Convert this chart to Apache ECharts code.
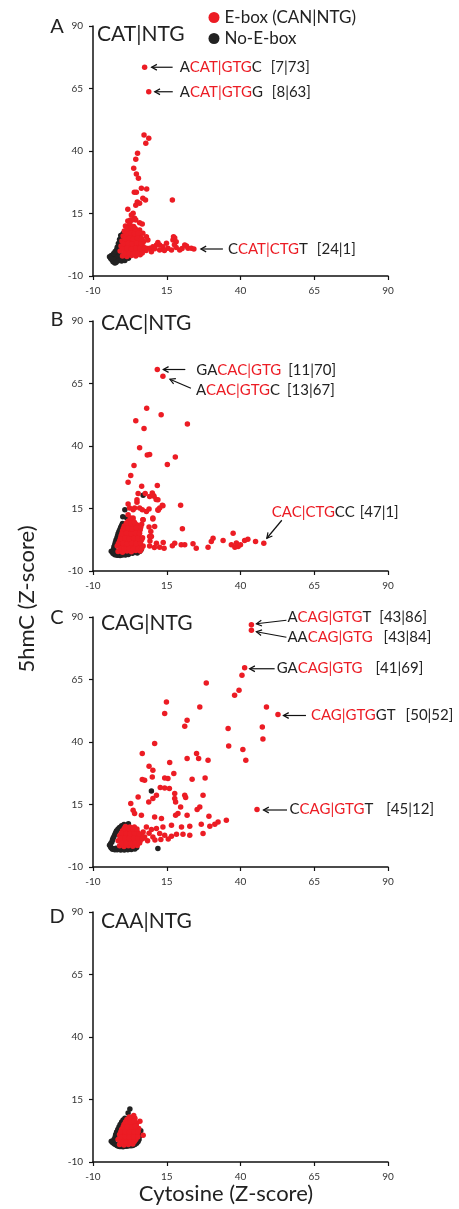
<!DOCTYPE html>
<html><head><meta charset="utf-8">
<script src="https://cdn.jsdelivr.net/npm/echarts@6/dist/echarts.min.js"></script>
<style>html,body{margin:0;padding:0;background:#fff}#c{width:459px;height:1209px}</style>
</head><body><div id="c"></div>
<script>
// ---------- data ----------
const axisMin = -10, axisMax = 90, axisStep = 25;   // ticks: -10, 15, 40, 65, 90
const panelLetters = ['A', 'B', 'C', 'D'];
const panelTitles = ['CAT|NTG', 'CAC|NTG', 'CAG|NTG', 'CAA|NTG'];
const seriesNames = ['E-box (CAN|NTG)', 'No-E-box'];
const xTitle = 'Cytosine (Z-score)';
const yTitle = '5hmC (Z-score)';

const aRed = [
 [7.5,73.5],[8.9,63.7],[7.3,46.4],[8.9,45.1],[7.9,43.1],[5.1,39.1],[4.5,36.7],[3.8,33.1],[4.7,30.8],[5.4,29.1],
 [4.0,23.5],[4.7,23.5],[6.4,25.1],[8.2,24.8],[6.9,21.1],[7.8,20.4],[16.9,20.4],[5.0,19.6],[4.5,18.3],[5.8,19.1],
 [1.8,16.7],[3.6,15.1],[3.0,14.4],[4.1,13.1],[2.7,12.4],[4.5,12.4],[5.8,11.3],[6.7,10.8],[3.0,9.7],[5.8,8.4],
 [6.9,7.1],[8.1,5.7],[8.6,4.4],[17.3,5.7],[17.1,4.4],[17.7,5.2],[18.2,3.7],[14.9,3.1],[12.6,2.4],[10.3,1.7],
 [11.5,2.4],[13.7,1.7],[15.4,1.1],[9.8,-0.3],[12.6,0.4],[16.6,0.4],[19.4,0.4],[21.1,2.4],[21.7,2.0],[22.2,1.1],
 [23.3,1.1],[24.2,0.8],[8.1,1.1],[9.2,1.1],[10.9,0.9],[14.2,0.2],[18.2,1.4],[20.2,1.0],[12.0,3.4],[17.6,2.5],
 [0,-2],[1.5,-2.2],[3,-1.8],[4.5,-2],[6,-1.5],
 [-0.8,0],[0.8,0.2],[2.3,-0.2],[3.8,0.3],[5.3,0],[6.8,0.4],[8,0.2],
 [-0.5,2],[1,2.2],[2.5,1.8],[4,2.3],[5.5,2],[7,1.8],
 [-0.2,4],[1.2,4.2],[2.7,3.8],[4.2,4.3],[5.6,4],[7.2,3.8],
 [0.2,6],[1.6,6.2],[3,5.8],[4.4,6.3],[5.8,6],
 [0.6,8],[2,8.2],[3.4,7.8],[4.8,8.3],
 [1,10],[2.4,10.3],[3.8,9.8],[1.8,12],[3.2,12.4],
 [0.7,-1],[2.2,-1],[3.7,-1],[5.2,-1],[6.7,-0.8],
 [0,1],[1.5,1.1],[3,0.9],[4.5,1.2],[6,1],[7.5,1.1],
 [0.3,3],[1.8,3.1],[3.3,2.9],[4.8,3.2],[6.3,3],
 [0.9,5],[2.3,5.1],[3.7,4.9],[5.1,5.2],[6.5,5],
 [1.2,7],[2.6,7.2],[4.1,7],[5.3,7.2],
 [1.6,9],[3,9.2],[4.3,9],[2.5,11.2]
];
const aBlack = [
 [-4.4,-2.3],[-3.8,-1.8],[-3.2,-4.3],[-2.6,-4.8],[-2.2,-3.6],[-3.0,-2.8],[-2.4,-1.5],[-1.8,-2.6],[-1.2,-3.5],
 [-1.5,-0.5],[-0.9,-1.8],[-1.2,0.8],[-1.0,1.5],[-0.9,2.8],[-0.5,4.2],[-0.2,5.6],[0.2,7.0],[-0.4,-2.8],[0.4,-3.2],
 [1.2,-2.6],[2.0,-2.9],[-2.0,0.4],[-0.8,3.5],[0.9,-1.5],[-3.6,-3.4],
 [-3.5,-3.6],[-2.8,-3.4],[-1.6,-4.0],[-2.2,-4.6],[-3.0,-1.0],[-2.5,-0.2],[-1.8,1.5],[-1.4,3.0],[-1.0,4.6],
 [-0.6,6.2],[-0.3,-4.0],[0.8,-3.8],[-4.0,-3.0]
];

const bRed = [
 [11.8,70.6],[13.7,67.9],[8.2,55.1],[13.1,52.5],[4.5,50.1],[22.0,48.8],[7.3,47.0],[5.8,39.3],[8.4,36.4],[9.2,36.6],
 [17.9,35.6],[15.2,32.6],[3.9,32.2],[2.8,28.2],[1.9,25.5],[6.5,23.9],[11.8,24.2],[7.7,21.0],[10.1,21.2],[10.7,19.9],
 [5.3,21.0],[11.4,18.6],[19.7,16.3],[13.5,16.3],[1.9,16.8],[4.9,17.5],[4.1,15.2],[6.7,14.5],[9.0,14.8],[12.1,14.3],
 [12.6,15.2],[6.9,10.5],[10.3,10.8],[9.0,7.6],[20.3,6.9],[9.8,3.8],[11.5,1.1],[12.6,-0.5],[14.1,-0.9],[10.8,-0.6],
 [13.8,1.4],[17.7,1.1],[16.9,0.1],[19.9,0.5],[21.1,0.5],[23.9,0.9],[25.0,-0.9],[29.0,-0.5],[30.1,1.8],[30.7,3.1],
 [34.1,2.2],[37.5,5.1],[36.9,0.5],[38.1,-0.5],[39.2,-0.2],[40.0,0.5],[41.4,2.2],[42.5,2.7],[45.1,1.8],[38.6,1.2],
 [47.9,1.1],[3.6,14.5],[5.8,15.2],[8.1,13.8],[10.3,11.2],[12.0,14.5],[13.7,16.1],[12.0,18.5],[9.2,19.8],[10.3,20.5],
 [4.9,18.5],[2.4,15.2],[1.9,12.5],[3.6,11.2],[7.0,10.5],[10.9,7.8],[9.6,5.8],[9.2,3.8],[9.3,2.0],[9.2,0.0],
 [-1.5,-2.2],[0,-2.5],[1.5,-2],[3,-2.3],[4.5,-1.8],[6,-2],
 [-1.8,0],[-0.3,0.3],[1.2,-0.2],[2.7,0.2],[4.2,0],[5.7,0.4],[7,0],
 [-1,2],[0.5,2.3],[2,1.8],[3.5,2.2],[5,2],[6.5,2.5],
 [-0.5,4],[1,4.2],[2.5,3.8],[4,4.3],[5.5,4],
 [0,6],[1.5,6.3],[3,5.8],[4.5,6.2],[6,6.5],
 [0.6,8],[2,8.3],[3.4,8],[4.8,8.5],[6.5,8.7],[2,10],[3.5,10.5],
 [-0.8,-1],[0.7,-1.2],[2.2,-1],[3.7,-1.1],[5.2,-0.9],[6.5,-1],
 [-1.4,1],[0.1,1.2],[1.6,0.9],[3.1,1.1],[4.6,1],[6.1,1.3],
 [-0.7,3],[0.8,3.2],[2.3,2.9],[3.8,3.1],[5.3,3],[6.8,3.3],
 [-0.2,5],[1.3,5.1],[2.8,4.9],[4.3,5.2],[5.8,5.1],
 [0.3,7],[1.8,7.2],[3.2,6.9],[4.7,7.3],[6.2,7.6],
 [1.3,9.2],[2.8,9.2],[4.1,9.4],[2.7,11.2]
];
const bBlack = [
 [-3.8,-2.1],[-3.2,-3],[-2.6,-3.5],[-2,-3.6],[-1.2,-3.2],[-0.4,-3.4],[0.5,-3.1],[1.5,-3.3],[2.4,-2.8],[-3,-1.2],
 [-2.6,0.6],[-2.2,2.4],[-1.7,4],[-1.2,5.8],[-0.6,7.5],[0,9],[0.8,14.5],[0.1,11.7],[1.4,11.3],[7,20.3],[-2.5,-2],
 [5,-2.8],[6.3,-1.5],
 [-3.4,-2.5],[-2.8,-2.8],[-1.6,-3.7],[-0.8,-3.8],[0,-3.6],[1,-3.6],[2,-3.4],[-2.9,-0.3],[-2.4,1.5],[-1.9,3.2],
 [-1.5,4.9],[-0.9,6.6],[-0.3,8.2],[3.4,-2.9],[5.8,-2.2]
];

const cRed = [
 [43.7,86.9],[43.7,84.7],[41.4,69.7],[40.5,66.7],[28.4,63.6],[39.5,60.7],[38.0,58.7],[14.9,56.0],[14.3,51.4],[26.2,54.0],
 [48.8,54.0],[52.7,51.0],[21.9,48.7],[21.1,46.3],[35.8,45.4],[47.4,46.0],[47.6,41.2],[10.9,39.4],[36.0,38.4],[40.8,37.0],
 [41.8,32.7],[6.7,35.4],[16.0,31.8],[25.1,35.4],[25.8,33.4],[21.9,33.4],[29.0,32.7],[9.0,30.3],[10.3,28.7],[6.7,25.0],
 [7.5,24.7],[10.1,26.0],[14.3,25.6],[15.4,25.4],[17.4,27.4],[23.6,25.1],[28.0,25.6],[12.8,21.8],[14.3,21.6],[15.9,21.4],
 [21.1,18.7],[17.7,19.4],[27.3,18.7],[10.3,17.4],[11.5,18.7],[8.9,16.0],[5.3,18.0],[17.7,17.4],[18.0,16.0],[21.4,17.8],
 [19.7,14.0],[26.2,14.0],[25.3,13.0],[2.8,15.4],[3.6,12.7],[4.1,11.4],[6.4,10.7],[10.9,10.0],[13.2,9.4],[18.8,11.4],
 [18.0,10.7],[21.9,10.7],[29.3,10.3],[35.2,8.7],[32.4,8.0],[31.3,7.1],[26.7,7.1],[29.6,6.3],[22.8,6.3],[20.0,6.0],
 [16.6,6.7],[13.7,6.0],[11.5,5.4],[8.1,6.0],[9.8,5.0],[27.3,3.4],[22.8,2.7],[20.5,3.1],[18.3,3.1],[16.6,2.3],
 [14.3,2.7],[12.6,3.4],[10.3,2.0],[7.5,2.0],[6.4,2.7],[45.6,13.0],[8.5,0.5],[11,0.8],[13,1],[15.5,1.2],[5,4],[7,4],[9,3.5],
 [-1,-1.5],[0.5,-1.8],[2,-1.5],[3.5,-1.7],[5,-1.4],
 [-1.5,0.5],[0,0.3],[1.5,0.6],[3,0.4],[4.5,0.7],[6,0.5],
 [-1,2.5],[0.5,2.7],[2,2.4],[3.5,2.6],[5,2.3],[6.5,2.2],
 [0,4.5],[1.5,4.6],[3,4.3],[4.5,4.5],[1,6.2],[2.5,6],[4,6],
 [-0.2,-0.6],[1.3,-0.6],[2.8,-0.7],[4.3,-0.5],[5.8,-0.4],
 [-0.7,1.5],[0.8,1.6],[2.3,1.5],[3.8,1.5],[5.3,1.5],[6.8,1.3],
 [-0.4,3.5],[1.1,3.6],[2.6,3.4],[4.1,3.5],[5.6,3.3],
 [0.6,5.4],[2.0,5.4],[3.5,5.2],[4.9,5.2]
];
const cBlack = [
 [-4.4,-1.3],[-3.8,-2.4],[-3,-2.7],[-2.2,-2.5],[-1.2,-2.8],[0,-2.9],[1.2,-2.6],[2.4,-2.7],[3.6,-2.5],[4.8,-2.2],
 [-3.6,0],[-3.2,1.5],[-2.6,3],[-2,4.5],[-1,5.8],[0.5,7],[2,7.3],[9.8,20.4],[12.0,-2.6],
 [-4,-2],[-3.4,-2.9],[-2.6,-3.1],[-1.8,-3.1],[-0.6,-3.2],[0.6,-3.2],[1.8,-3.1],[3,-3],[4.2,-2.8],[-4,-0.6],
 [-3.4,0.8],[-2.9,2.2],[-2.3,3.8],[-1.5,5.2],[-0.3,6.5]
];

const dRed = [
 [-1,-3],[0.5,-3.2],[2,-3],[3.5,-2.8],
 [-1.5,-1],[0,-0.8],[1.5,-1.2],[3,-0.9],[4.5,-1],
 [-1,1],[0.5,1.2],[2,0.8],[3.5,1.1],[5,0.9],
 [-0.3,3],[1.2,3.3],[2.7,2.9],[4.2,3.2],[5.5,3.4],
 [0.5,5],[2,5.2],[3.5,5],[4.8,5.6],[1.5,7],[3,7.2],[4.2,7.5],
 [3.8,8.6],[5.9,6.3],[7.0,0.7],[4.7,4.3],
 [-0.2,-2],[1.2,-2.1],[2.7,-2],[4,-1.8],
 [-0.8,0],[0.8,0.1],[2.3,-0.1],[3.8,0.1],[5.2,0],
 [-0.6,2],[0.9,2.2],[2.4,1.9],[3.9,2.1],[5.3,2.1],
 [0.2,4],[1.6,4.2],[3.1,4],[4.4,4.3],
 [1,6],[2.5,6.1],[4,6.3],[2.3,8]
];
const dBlack = [
 [-3.8,-1.7],[-3,-2.5],[-2.2,-3],[-1.5,-3.6],[-0.5,-3.8],[0.8,-3.7],[2.2,-3.5],[3.5,-3.4],[4.8,-2.5],[5.6,-1],
 [5.6,1.6],[-2.5,0],[-2,2],[-1.2,4],[-0.3,6],[0.8,7.5],[1.9,9.6],[2.5,11.2],
 [-3.4,-2.2],[-2.6,-2.9],[-1.9,-3.4],[-1,-3.8],[0.2,-3.9],[1.5,-3.7],[2.9,-3.5],[4.2,-3],[5.3,-1.8],[-2.9,-1],
 [-2.3,1],[-1.6,3],[-0.8,5],[0.2,6.8],[5.8,0.3],[6.2,2.5]
];

// annotated sequences: [x|y] value pairs
const aNotes = [
 {pre:'A', seq:'CAT|GTG', post:'C', val:'[7|73]', x:7.5, y:73.5},
 {pre:'A', seq:'CAT|GTG', post:'G', val:'[8|63]', x:8.9, y:63.7},
 {pre:'C', seq:'CAT|CTG', post:'T', val:'[24|1]', x:24.2, y:0.8}
];
const bNotes = [
 {pre:'GA', seq:'CAC|GTG', post:'', val:'[11|70]', x:11.8, y:70.6},
 {pre:'A', seq:'CAC|GTG', post:'C', val:'[13|67]', x:13.7, y:67.9},
 {pre:'', seq:'CAC|CTG', post:'CC', val:'[47|1]', x:47.9, y:1.1}
];
const cNotes = [
 {pre:'A', seq:'CAG|GTG', post:'T', val:'[43|86]', x:43.7, y:86.9},
 {pre:'AA', seq:'CAG|GTG', post:'', val:'[43|84]', x:43.7, y:84.7},
 {pre:'GA', seq:'CAG|GTG', post:'', val:'[41|69]', x:41.4, y:69.7},
 {pre:'', seq:'CAG|GTG', post:'GT', val:'[50|52]', x:52.7, y:51.0},
 {pre:'C', seq:'CAG|GTG', post:'T', val:'[45|12]', x:45.6, y:13.0}
];
const dNotes = [];

// ---------- layout / style (pixels) ----------
const RED = '#ec1c24', BLK = '#222222', FONT = 'Lato';
const gridTops = [26, 321, 617, 912];
const gridLeft = 93, gridW = 295, gridH = 250;
const titleLayout = [{x:97, dy:8}, {x:101, dy:2}, {x:101, dy:6}, {x:101, dy:9}];
const letterLayout = [{x:57, dy:1}, {x:57, dy:-1}, {x:57, dy:1}, {x:57, dy:5}];
// tip / tail of arrow and text anchor, relative to the annotated point
const noteLayout = [
 [{tip:[7,0], tail:[28,0], text:[35,0], gap:9},
  {tip:[6,0], tail:[24,0], text:[31,0], gap:9},
  {tip:[7,0], tail:[29,0], text:[34,0], gap:9}],
 [{tip:[6,0], tail:[28,0], text:[39,1], gap:7},
  {tip:[7,3], tail:[28,12], text:[33,14], gap:7},
  {tip:[3,-5], tail:[18,-23], text:[8,-31], gap:5}],
 [{tip:[5,-1], tail:[35,-4.5], text:[36,-8], gap:8},
  {tip:[5,1.5], tail:[35,7], text:[36,7], gap:11},
  {tip:[5,1], tail:[30,1], text:[32,0], gap:13},
  {tip:[5.5,1], tail:[28,1], text:[33,1], gap:10},
  {tip:[6.5,0.5], tail:[30,0.5], text:[32.5,-0.5], gap:13}],
 []
];

const panels = [
 {red:aRed, black:aBlack, notes:aNotes},
 {red:bRed, black:bBlack, notes:bNotes},
 {red:cRed, black:cBlack, notes:cNotes},
 {red:dRed, black:dBlack, notes:dNotes}
];

const chart = echarts.init(document.getElementById('c'), null, {renderer:'canvas'});

const axisCommon = {
  type:'value', min:axisMin, max:axisMax, interval:axisStep,
  axisLine:{show:true, onZero:false, lineStyle:{color:'#111', width:1.5}},
  axisTick:{show:true, length:4, lineStyle:{color:'#111', width:1.2}},
  splitLine:{show:false},
  axisLabel:{fontSize:10, color:'#333', fontFamily:FONT, margin:10}
};

const option = {
  animation:false,
  backgroundColor:'#fff',
  grid: gridTops.map(t => ({left:gridLeft, top:t, width:gridW, height:gridH})),
  xAxis: gridTops.map((t,i) => Object.assign({gridIndex:i}, axisCommon)),
  yAxis: gridTops.map((t,i) => Object.assign({gridIndex:i}, axisCommon)),
  legend:{
    orient:'vertical', left:203.5, top:4, itemWidth:11, itemHeight:11, itemGap:4,
    icon:'circle', data:[seriesNames[0], seriesNames[1]],
    textStyle:{fontSize:17, fontFamily:FONT, color:'#222'}
  },
  series: []
};
panels.forEach((p,i) => {
  option.series.push({name:seriesNames[1], type:'scatter', xAxisIndex:i, yAxisIndex:i,
    data:p.black, symbolSize:5.5, itemStyle:{color:BLK, opacity:1}, z:2});
  option.series.push({name:seriesNames[0], type:'scatter', xAxisIndex:i, yAxisIndex:i,
    data:p.red, symbolSize:5.5, itemStyle:{color:RED, opacity:1}, z:3});
});
chart.setOption(option);

// ---------- texts and arrows placed through the axes ----------
const graphics = [];
panels.forEach((p,i) => {
  graphics.push({type:'text', x:letterLayout[i].x, y:gridTops[i] + letterLayout[i].dy,
    style:{text:panelLetters[i], fontSize:20, fontFamily:FONT, fill:'#222', align:'center', verticalAlign:'middle'}});
  graphics.push({type:'text', x:titleLayout[i].x, y:gridTops[i] + titleLayout[i].dy,
    style:{text:panelTitles[i], fontSize:21, fontFamily:FONT, fill:'#222', align:'left', verticalAlign:'middle'}});
  p.notes.forEach((n,j) => {
    const L = noteLayout[i][j];
    const pt = chart.convertToPixel({xAxisIndex:i, yAxisIndex:i}, [n.x, n.y]);
    const tx = pt[0] + L.tip[0], ty = pt[1] + L.tip[1];
    const sx = pt[0] + L.tail[0], sy = pt[1] + L.tail[1];
    const ang = Math.atan2(sy - ty, sx - tx), hl = 6, ha = 0.5;
    graphics.push({type:'line', shape:{x1:sx, y1:sy, x2:tx, y2:ty}, style:{stroke:'#111', lineWidth:1.2}, z:10});
    graphics.push({type:'polyline', shape:{points:[
        [tx + hl*Math.cos(ang+ha), ty + hl*Math.sin(ang+ha)], [tx, ty],
        [tx + hl*Math.cos(ang-ha), ty + hl*Math.sin(ang-ha)]]},
      style:{stroke:'#111', lineWidth:1.2, fill:null}, z:10});
    let txt = '';
    if (n.pre) txt += '{k|' + n.pre + '}';
    txt += '{r|' + n.seq + '}';
    if (n.post) txt += '{k|' + n.post + '}';
    txt += '{g| }{k|' + n.val + '}';
    graphics.push({type:'text', x:pt[0] + L.text[0], y:pt[1] + L.text[1], z:10,
      style:{text:txt, align:'left', verticalAlign:'middle',
        rich:{
          k:{fill:'#222', fontSize:15, fontFamily:FONT},
          r:{fill:RED, fontSize:15, fontFamily:FONT},
          g:{width:L.gap, fontSize:15, fontFamily:FONT}
        }}});
  });
});
graphics.push({type:'text', x:27, y:599, rotation:Math.PI/2,
  style:{text:yTitle, fontSize:22, fontFamily:FONT, fill:'#222', align:'center', verticalAlign:'middle'}});
graphics.push({type:'text', x:226, y:1194,
  style:{text:xTitle, fontSize:22, fontFamily:FONT, fill:'#222', align:'center', verticalAlign:'middle'}});
chart.setOption({graphic:graphics});
</script>
</body></html>
